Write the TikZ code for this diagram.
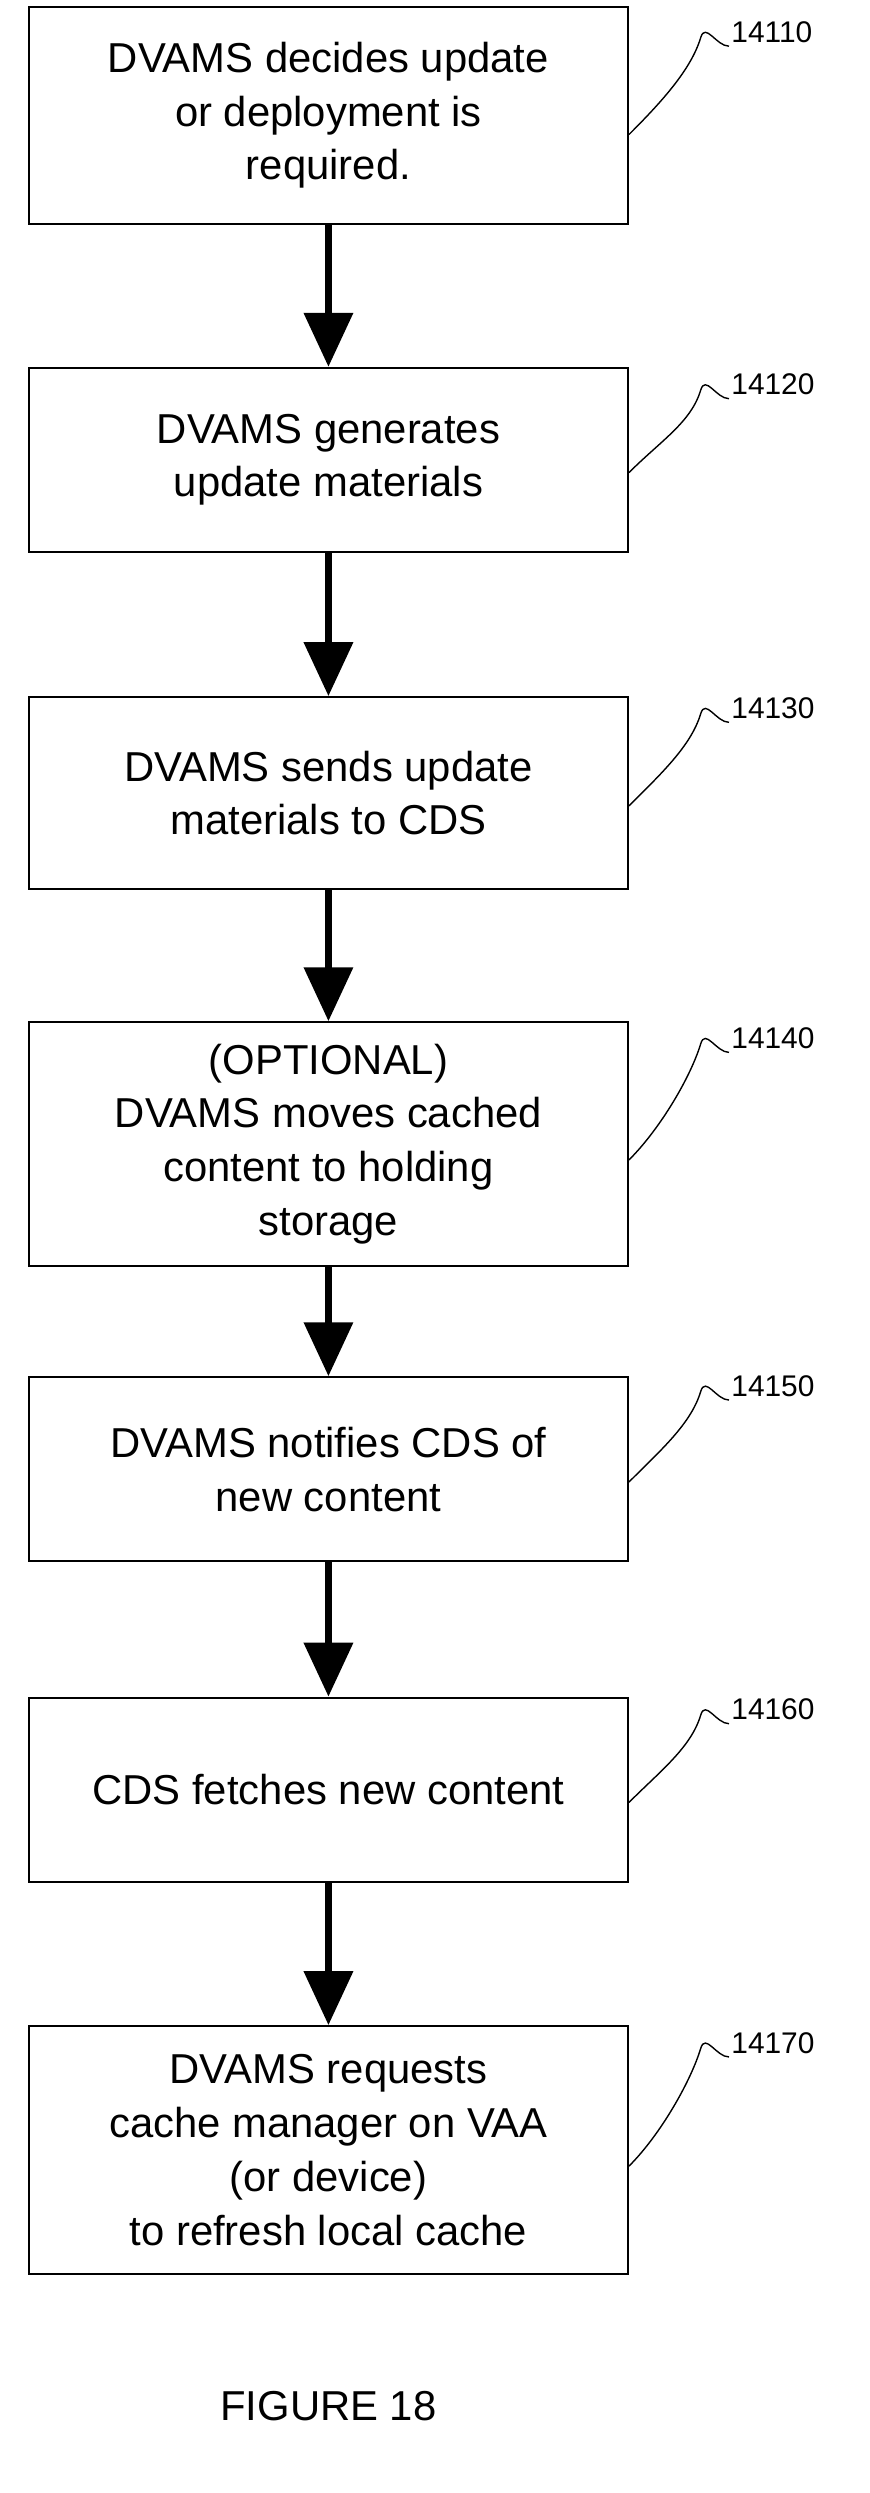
\documentclass[tikz,border=0pt]{standalone}
\usepackage{fontspec}
\setmainfont{Liberation Sans}
\usetikzlibrary{arrows.meta,positioning}

\begin{document}
\begin{tikzpicture}[x=0.02827cm,y=-0.02827cm,
  stepbox/.style={draw, line width=1pt, minimum width=10.57cm, align=center,
    font=\fontsize{21}{27}\selectfont, inner sep=4pt},
  flow/.style={line width=3.2pt, -{Triangle[length=0.95cm,width=0.85cm]}},
  tag/.style={font=\fontsize{15}{18}\selectfont, anchor=west, inner sep=1pt},
  lead/.style={line width=0.7pt}]

% page frame
\useasboundingbox (0,0) rectangle (543,1556);

% steps
\node[stepbox, minimum height=3.82cm] (s1) at (205,72) {DVAMS decides update\\or deployment is\\required.};
\node[stepbox, minimum height=3.25cm] (s2) at (205,287) {DVAMS generates\\update materials};
\node[stepbox, minimum height=3.39cm] (s3) at (205,495) {DVAMS sends update\\materials to CDS};
\node[stepbox, minimum height=4.30cm] (s4) at (205,714) {(OPTIONAL)\\DVAMS moves cached\\content to holding\\storage};
\node[stepbox, minimum height=3.25cm] (s5) at (205,917) {DVAMS notifies CDS of\\new content};
\node[stepbox, minimum height=3.25cm] (s6) at (205,1117) {CDS fetches new content};
\node[stepbox, minimum height=4.38cm] (s7) at (205,1342) {DVAMS requests\\cache manager on VAA\\(or device)\\to refresh local cache};

% arrows
\foreach \a/\b in {s1/s2,s2/s3,s3/s4,s4/s5,s5/s6,s6/s7}
  \draw[flow] (\a.south) -- (\b.north);

% reference numerals
\node[tag] (t1) at (455,20) {14110};
\node[tag] (t2) at (455,240) {14120};
\node[tag] (t3) at (455,442) {14130};
\node[tag] (t4) at (455,648) {14140};
\node[tag] (t5) at (455,865) {14150};
\node[tag] (t6) at (455,1067) {14160};
\node[tag] (t7) at (455,1275) {14170};

\foreach \s/\t/\dy in {s1/t1/12,s2/t2/8,s3/t3/8,s4/t4/10,s5/t5/8,s6/t6/8,s7/t7/10}
  \draw[lead] ([yshift=-\dy*0.02827cm]\s.east) .. controls +(20,-20) and +(-6,20) .. ([xshift=-0.5cm,yshift=-0.1cm]\t.west)
     .. controls +(3,-10) and +(-8,0) .. ([yshift=-0.25cm]\t.west);

% caption
\node[font=\fontsize{21}{25}\selectfont] (cap) at (205,1502) {FIGURE 18};
\end{tikzpicture}
\end{document}
